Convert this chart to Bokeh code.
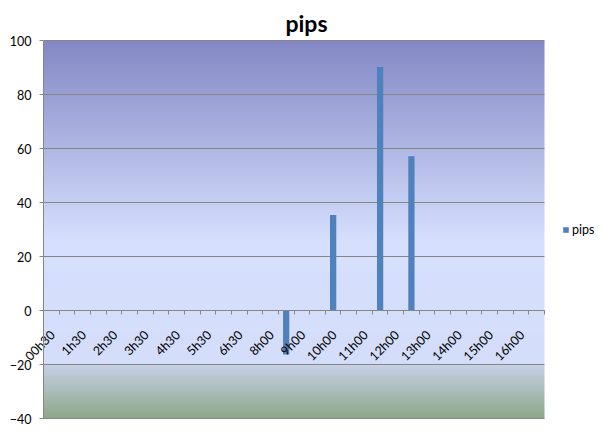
import numpy as np
from bokeh.plotting import figure
from bokeh.models import (FixedTicker, Range1d, Legend, LegendItem, ColumnDataSource,
                          LinearAxis, Label)
from bokeh.core.properties import value
from bokeh.embed import file_html
from bokeh.resources import INLINE

# ---- data ----
categories = ["00h30", "1h00", "1h30", "2h00", "2h30", "3h00", "3h30", "4h00",
              "4h30", "5h00", "5h30", "6h00", "6h30", "7h30", "8h00", "8h30",
              "9h00", "9h30", "10h00", "10h30", "11h00", "11h30", "12h00", "12h30",
              "13h00", "13h30", "14h00", "14h30", "15h00", "15h30", "16h00", "16h30"]
pips = [0, 0, 0, 0, 0, 0, 0, 0,
        0, 0, 0, 0, 0, 0, 0, -16.3,
        0, 0, 35.4, 0, 0, 90.2, 0, 57.1,
        0, 0, 0, 0, 0, 0, 0, 0]
y_ticks = [-40, -20, 0, 20, 40, 60, 80, 100]
series_name = "pips"
chart_title = "pips"

FONT = "Lato"
GRID = "#868686"
BAR = "#4F81BD"

n = len(categories)
ymin, ymax = y_ticks[0], y_ticks[-1]

# ---- layout (pixels) ----
W, H = 596, 425
PL, PR = 43, 544      # plot area left / right
PT, PB = 40, 418      # plot area top / bottom
LAB_DX = -7           # horizontal shift of category labels from tick centre (px)
ppx = (PR - PL) / n
ppy = (PB - PT) / (ymax - ymin)

# the frame covers the whole canvas so nothing gets clipped
p = figure(width=W, height=H, output_backend="svg", toolbar_location=None,
           x_range=Range1d(-PL / ppx, (W - PL) / ppx),
           y_range=Range1d(ymin - (H - PB) / ppy, ymax + PT / ppy),
           min_border=0, min_border_left=0, min_border_right=0,
           min_border_top=0, min_border_bottom=0)
p.outline_line_color = None
p.background_fill_color = "white"
p.border_fill_color = "white"
p.xgrid.visible = False
p.ygrid.visible = False
p.xaxis.visible = False

# gradient background of plot area
stops_v = [ymax, 25, -19.5, -20.5, ymin]
stops_c = np.array([(131, 136, 197), (214, 224, 254), (212, 222, 250),
                    (198, 208, 230), (141, 167, 137)], dtype=float)
N = 560
vals = np.linspace(ymin, ymax, N)
rgb = np.stack([np.interp(vals, stops_v[::-1], stops_c[::-1, k]) for k in range(3)], axis=1)
img = np.empty((N, 1), dtype=np.uint32)
view = img.view(dtype=np.uint8).reshape((N, 1, 4))
view[:, 0, 0] = rgb[:, 0].round()
view[:, 0, 1] = rgb[:, 1].round()
view[:, 0, 2] = rgb[:, 2].round()
view[:, 0, 3] = 255
bg = p.image_rgba(image=[img], x=0, y=ymin, dw=n, dh=ymax - ymin)
bg.level = "image"

# horizontal gridlines across the plot area
p.segment(x0=[0] * len(y_ticks), x1=[n] * len(y_ticks), y0=y_ticks, y1=y_ticks,
          line_color=GRID, line_width=1)

# value axis drawn at x = 0
p.yaxis.fixed_location = 0
p.yaxis.bounds = (ymin, ymax)
p.yaxis.ticker = FixedTicker(ticks=y_ticks)
p.yaxis.minor_tick_line_color = None
p.yaxis.major_tick_in = 0
p.yaxis.major_tick_out = 4
p.yaxis.axis_line_color = GRID
p.yaxis.major_tick_line_color = GRID
p.yaxis.major_label_standoff = 8
p.yaxis.major_label_text_font = FONT
p.yaxis.major_label_text_font_size = "12.5px"
p.yaxis.major_label_text_color = "black"

# bars
xs = np.arange(n) + 0.5
src = ColumnDataSource(dict(x=xs, top=pips))
bars = p.vbar(x="x", top="top", bottom=0, width=0.4, source=src,
              fill_color=BAR, line_color=None)

# category axis crossing at y = 0: tick marks at category boundaries
bounds = list(range(0, n + 1))
tick_axis = LinearAxis(fixed_location=0, ticker=FixedTicker(ticks=bounds),
                       bounds=(0, n), axis_line_color=GRID,
                       major_tick_in=0, major_tick_out=4, major_tick_line_color=GRID,
                       minor_tick_line_color=None,
                       major_label_overrides={b: "" for b in bounds})
p.add_layout(tick_axis, "below")

# category labels, every second one, rotated 45 degrees below the axis
lab_idx = [i for i in range(n) if i % 2 == 0]
lab_src = ColumnDataSource(dict(x=[float(xs[i]) + LAB_DX / ppx for i in lab_idx],
                                y=[0.0] * len(lab_idx),
                                text=[categories[i] for i in lab_idx]))
p.text(x="x", y="y", text="text", source=lab_src, angle=np.pi / 4,
       text_align="right", text_baseline="top", x_offset=3, y_offset=17,
       text_font=value(FONT), text_font_size="12.5px", text_color="black")

# title
title = Label(x=(306 - PL) / ppx, y=ymax + (PT - 22) / ppy, text=chart_title,
              text_align="center", text_baseline="alphabetic",
              text_font=FONT, text_font_size="23px", text_font_style="bold",
              text_color="black")
p.add_layout(title)

# legend
legend = Legend(items=[LegendItem(label=series_name, renderers=[bars])],
                location=(562, 188), orientation="vertical",
                background_fill_alpha=0, border_line_color=None,
                glyph_width=7, glyph_height=7, label_standoff=3,
                padding=0, margin=0, spacing=0, label_height=7,
                label_text_font=FONT, label_text_font_size="12.5px",
                label_text_color="black")
p.add_layout(legend, "center")

open("out.html", "w").write(file_html(p, INLINE))
